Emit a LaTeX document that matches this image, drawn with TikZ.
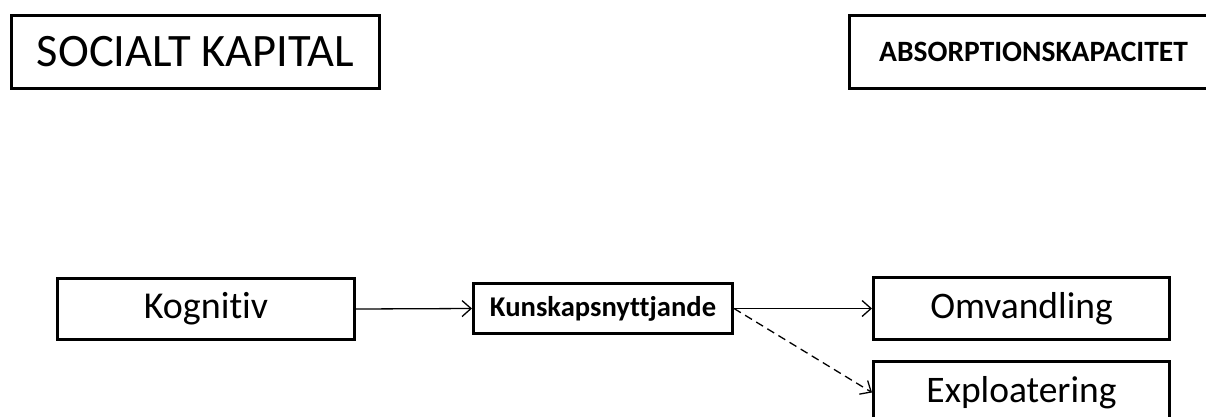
\documentclass[tikz,border=0pt]{standalone}
\usepackage{fontspec}
\setmainfont[Ligatures=NoCommon]{Carlito}
\usetikzlibrary{arrows.meta}
\begin{document}
\begin{tikzpicture}[x=1pt,y=-1pt,
  box/.style={draw=black,line width=3pt,rectangle,inner sep=0pt,anchor=north west},
  link/.style={line width=1.3pt,-{Straight Barb[length=9pt,width=16pt,line width=1.3pt]}},
  dlink/.style={link,dash pattern=on 8pt off 5pt}]
  \useasboundingbox (0,0) rectangle (1206,416);
  \clip (0,0) rectangle (1206,416);
  % header boxes
  \node[box,minimum width=368pt,minimum height=73pt,font=\fontsize{46.5}{54}\selectfont] (soc) at (10,14) {SOCIALT KAPITAL};
  \node[box,minimum width=368pt,minimum height=73pt,font=\fontsize{29.5}{36}\selectfont\bfseries] (abs) at (848,14) {ABSORPTIONSKAPACITET};
  % process chain
  \node[box,minimum width=297pt,minimum height=61pt,font=\fontsize{38}{44}\selectfont] (kog) at (56,277) {Kognitiv};
  \node[box,minimum width=259pt,minimum height=50pt,font=\fontsize{28.6}{33}\selectfont\bfseries] (kun) at (472,282) {Kunskapsnyttjande};
  \node[box,minimum width=296pt,minimum height=62pt,font=\fontsize{37.5}{44}\selectfont] (omv) at (872,276) {Omvandling};
  \node[box,minimum width=296pt,minimum height=62pt,font=\fontsize{37.5}{44}\selectfont] (exp) at (872,360) {Exploatering};
  % connectors
  \draw[link] (kog.east) -- (kun.west);
  \draw[link] (kun.east) -- (omv.west);
  \draw[dlink] (kun.east) -- (exp.west);
\end{tikzpicture}
\end{document}
